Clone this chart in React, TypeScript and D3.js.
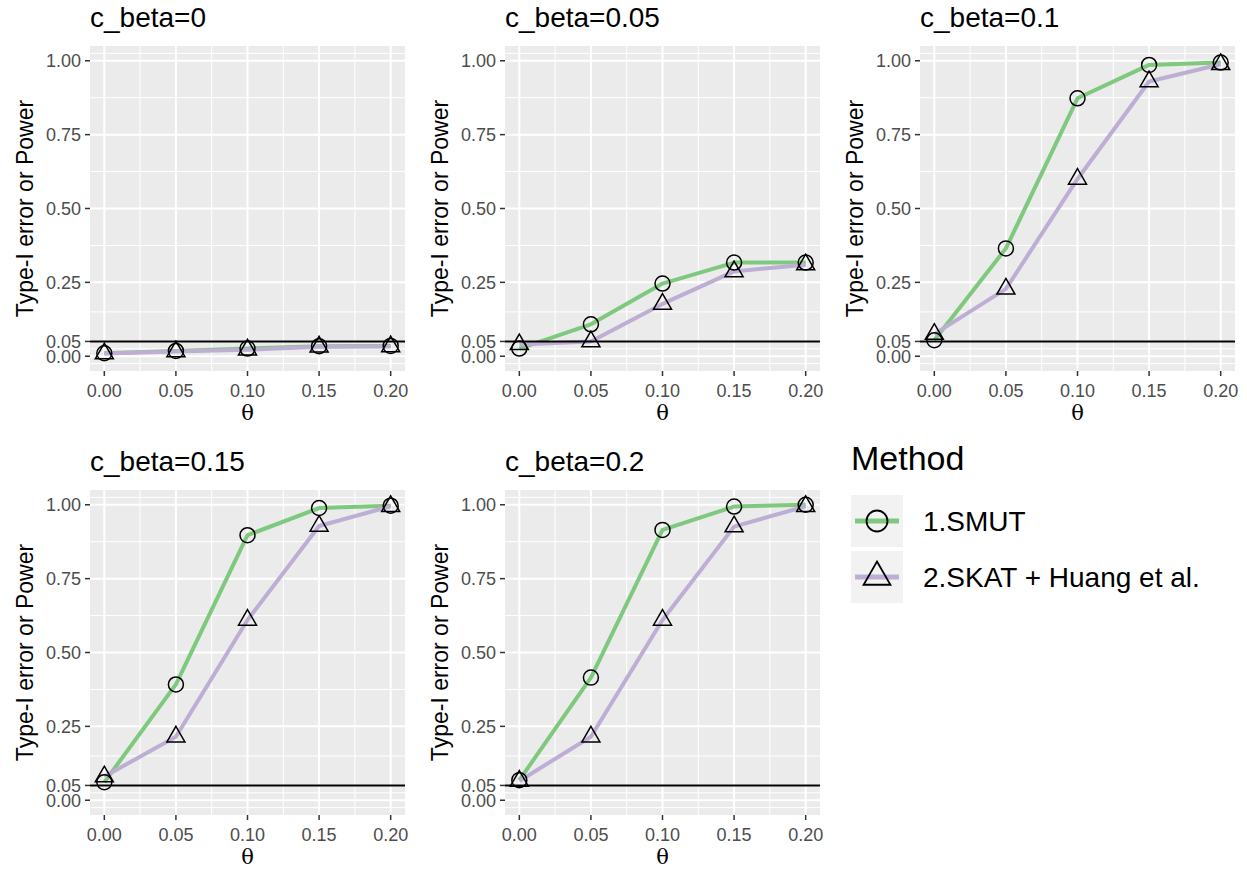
import React, { useEffect, useRef } from 'react'
import * as d3 from 'd3'

// theta values on the x axis
const theta = [0, 0.05, 0.1, 0.15, 0.2]
const xTicks = [0, 0.05, 0.1, 0.15, 0.2]
const yTicks = [0, 0.05, 0.25, 0.5, 0.75, 1]
const panelTitles = ['c_beta=0', 'c_beta=0.05', 'c_beta=0.1', 'c_beta=0.15', 'c_beta=0.2']

// one row per panel (c_beta)
const smut = [
  [0.01, 0.018, 0.026, 0.034, 0.035],
  [0.026, 0.108, 0.246, 0.317, 0.317],
  [0.054, 0.365, 0.873, 0.986, 0.994],
  [0.061, 0.392, 0.897, 0.989, 0.997],
  [0.068, 0.415, 0.915, 0.994, 1.0]
]
const skat = [
  [0.009, 0.016, 0.022, 0.032, 0.033],
  [0.04, 0.05, 0.177, 0.287, 0.31],
  [0.075, 0.228, 0.6, 0.93, 0.988],
  [0.08, 0.215, 0.61, 0.928, 0.995],
  [0.065, 0.215, 0.61, 0.926, 0.995]
]
const methods = ['1.SMUT', '2.SKAT + Huang et al.']
const alphaLine = 0.05

const colors = ['#7FC97F', '#BEAED4']
const font = '"Liberation Sans", Arial, Helvetica, sans-serif'

function trianglePath(r) {
  const h = r * 0.866
  return `M0,${-r}L${h},${r / 2}L${-h},${r / 2}Z`
}

// ggplot style minor breaks: midpoints between majors, plus one step beyond
function minorBreaks(majors, lo, hi) {
  let b = majors.slice()
  const bd = b[1] - b[0]
  if (lo < b[0]) b = [b[0] - bd, ...b]
  if (hi > b[b.length - 1]) b = [...b, b[b.length - 1] + bd]
  const out = []
  for (let i = 0; i < b.length - 1; i++) out.push((b[i] + b[i + 1]) / 2)
  return out.filter(v => v > lo && v < hi)
}

export default function App() {
  const ref = useRef(null)

  useEffect(() => {
    const svg = d3.select(ref.current)
    svg.selectAll('*').remove()

    const pw = 315
    const ph = 325
    const positions = [
      [90, 46], [505, 46], [920, 46],
      [90, 490], [505, 490]
    ]

    const xDomain = [-0.01, 0.21]
    const yDomain = [-0.05, 1.05]
    const xMinor = minorBreaks(xTicks, xDomain[0], xDomain[1])
    const yMinor = minorBreaks(yTicks, yDomain[0], yDomain[1])

    positions.forEach(([px, py], i) => {
      const x = d3.scaleLinear().domain(xDomain).range([0, pw])
      const y = d3.scaleLinear().domain(yDomain).range([ph, 0])
      const g = svg.append('g').attr('transform', `translate(${px},${py})`)

      g.append('rect').attr('width', pw).attr('height', ph).attr('fill', '#EBEBEB')

      // minor grid
      g.selectAll('.ym').data(yMinor).enter().append('line')
        .attr('x1', 0).attr('x2', pw)
        .attr('y1', d => y(d)).attr('y2', d => y(d))
        .attr('stroke', '#fff').attr('stroke-width', 1)
      g.selectAll('.xm').data(xMinor).enter().append('line')
        .attr('y1', 0).attr('y2', ph)
        .attr('x1', d => x(d)).attr('x2', d => x(d))
        .attr('stroke', '#fff').attr('stroke-width', 1)
      // major grid
      g.selectAll('.yM').data(yTicks).enter().append('line')
        .attr('x1', 0).attr('x2', pw)
        .attr('y1', d => y(d)).attr('y2', d => y(d))
        .attr('stroke', '#fff').attr('stroke-width', 2)
      g.selectAll('.xM').data(xTicks).enter().append('line')
        .attr('y1', 0).attr('y2', ph)
        .attr('x1', d => x(d)).attr('x2', d => x(d))
        .attr('stroke', '#fff').attr('stroke-width', 2)

      // lines
      const line = d3.line().x((d, j) => x(theta[j])).y(d => y(d))
      ;[smut[i], skat[i]].forEach((s, k) => {
        g.append('path').datum(s)
          .attr('d', line)
          .attr('fill', 'none')
          .attr('stroke', colors[k])
          .attr('stroke-width', 4)
          .attr('stroke-linejoin', 'round')
      })

      // points
      g.selectAll('.pc').data(smut[i]).enter().append('circle')
        .attr('cx', (d, j) => x(theta[j])).attr('cy', d => y(d))
        .attr('r', 7.5)
        .attr('fill', 'none').attr('stroke', '#000').attr('stroke-width', 1.5)
      g.selectAll('.pt').data(skat[i]).enter().append('path')
        .attr('transform', (d, j) => `translate(${x(theta[j])},${y(d)})`)
        .attr('d', trianglePath(10.4))
        .attr('fill', 'none').attr('stroke', '#000').attr('stroke-width', 1.5)
        .attr('stroke-linejoin', 'miter')

      // reference line
      g.append('line')
        .attr('x1', 0).attr('x2', pw)
        .attr('y1', y(alphaLine)).attr('y2', y(alphaLine))
        .attr('stroke', '#000').attr('stroke-width', 2)

      // y axis
      g.selectAll('.yt').data(yTicks).enter().append('line')
        .attr('x1', -5).attr('x2', 0)
        .attr('y1', d => y(d)).attr('y2', d => y(d))
        .attr('stroke', '#333').attr('stroke-width', 1.5)
      g.selectAll('.yl').data(yTicks).enter().append('text')
        .attr('x', -9).attr('y', d => y(d))
        .attr('dy', '0.36em')
        .attr('text-anchor', 'end')
        .attr('font-family', font).attr('font-size', 18).attr('fill', '#4D4D4D')
        .text(d => d3.format('.2f')(d))

      // x axis
      g.selectAll('.xt').data(xTicks).enter().append('line')
        .attr('x1', d => x(d)).attr('x2', d => x(d))
        .attr('y1', ph).attr('y2', ph + 5)
        .attr('stroke', '#333').attr('stroke-width', 1.5)
      g.selectAll('.xl').data(xTicks).enter().append('text')
        .attr('x', d => x(d)).attr('y', ph + 26)
        .attr('text-anchor', 'middle')
        .attr('font-family', font).attr('font-size', 18).attr('fill', '#4D4D4D')
        .text(d => d3.format('.2f')(d))

      // axis titles
      g.append('text')
        .attr('x', pw / 2).attr('y', ph + 49)
        .attr('text-anchor', 'middle')
        .attr('font-family', '"DejaVu Serif", "Liberation Serif", serif')
        .attr('font-size', 21)
        .text('θ')
      g.append('text')
        .attr('transform', `translate(-65,${ph / 2}) rotate(-90)`)
        .attr('text-anchor', 'middle')
        .attr('dominant-baseline', 'central')
        .attr('font-family', font).attr('font-size', 23)
        .text('Type-I error or Power')

      // panel title
      g.append('text')
        .attr('x', 0).attr('y', -19)
        .attr('font-family', font).attr('font-size', 28)
        .text(panelTitles[i])
    })

    // legend
    const lg = svg.append('g').attr('transform', 'translate(851,0)')
    lg.append('text')
      .attr('x', 0).attr('y', 470)
      .attr('font-family', font).attr('font-size', 34)
      .text('Method')
    methods.forEach((m, k) => {
      const ky = 495 + k * 56
      const row = lg.append('g').attr('transform', `translate(0,${ky})`)
      row.append('rect').attr('width', 52).attr('height', 52).attr('fill', '#F2F2F2')
      row.append('line')
        .attr('x1', 4).attr('x2', 48).attr('y1', 26).attr('y2', 26)
        .attr('stroke', colors[k]).attr('stroke-width', 5)
      if (k === 0) {
        row.append('circle').attr('cx', 26).attr('cy', 26).attr('r', 10.5)
          .attr('fill', 'none').attr('stroke', '#000').attr('stroke-width', 1.8)
      } else {
        row.append('path').attr('transform', 'translate(26,26)')
          .attr('d', trianglePath(15.5))
          .attr('fill', 'none').attr('stroke', '#000').attr('stroke-width', 1.8)
      }
      row.append('text')
        .attr('x', 72).attr('y', 26)
        .attr('dy', '0.36em')
        .attr('font-family', font).attr('font-size', 28)
        .text(m)
    })
  }, [])

  return (
    <svg ref={ref} width={1247} height={871}
      style={{ position: 'absolute', left: 0, top: 0, background: '#fff' }} />
  )
}
